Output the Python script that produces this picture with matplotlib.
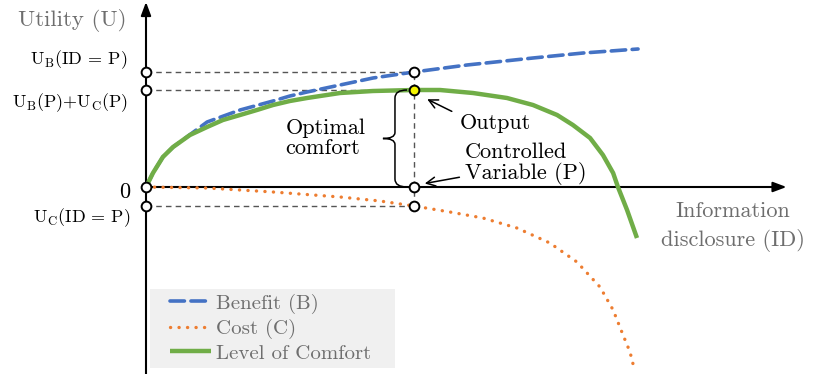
import numpy as np
import matplotlib
matplotlib.use('Agg')
import matplotlib.pyplot as plt
from matplotlib.path import Path
from matplotlib.patches import PathPatch, Rectangle

plt.rcParams['font.family'] = 'serif'
plt.rcParams['font.serif'] = ['cmr10']
plt.rcParams['mathtext.fontset'] = 'cm'
plt.rcParams['axes.unicode_minus'] = False

# Curves (x: information disclosure, P = 1; y: utility)
benefit_x = [0, 0.026, 0.063, 0.101, 0.127, 0.228, 0.351, 0.474, 0.537, 0.601, 0.724,
             0.847, 1.0, 1.198, 1.444, 1.631, 1.836]
benefit_y = [0, 0.14, 0.30, 0.40, 0.45, 0.65, 0.77, 0.86, 0.91, 0.95, 1.02,
             1.09, 1.15, 1.22, 1.29, 1.34, 1.38]

cost_x = [0, 0.228, 0.474, 0.724, 0.873, 1.0, 1.134, 1.257, 1.384, 1.507, 1.608,
          1.694, 1.743, 1.780, 1.806, 1.821]
cost_y = [0, -0.01, -0.05, -0.10, -0.14, -0.19, -0.25, -0.31, -0.41, -0.56, -0.75,
          -1.00, -1.23, -1.48, -1.65, -1.81]

comfort_x = [0, 0.026, 0.063, 0.101, 0.164, 0.228, 0.287, 0.351, 0.414, 0.474, 0.537,
             0.601, 0.724, 0.847, 1.0, 1.097, 1.220, 1.347, 1.444, 1.534, 1.593,
             1.657, 1.705, 1.743, 1.761, 1.795, 1.832]
comfort_y = [0, 0.14, 0.30, 0.40, 0.52, 0.60, 0.67, 0.72, 0.77, 0.82, 0.86,
             0.89, 0.94, 0.96, 0.97, 0.97, 0.94, 0.89, 0.82, 0.72, 0.62,
             0.49, 0.32, 0.14, 0.0, -0.23, -0.51]

P = 1.0
UB_P = 1.15
UBUC_P = 0.97
UC_P = -0.19

blue = '#4472C4'
orange = '#ED7D31'
green = '#70AD47'
grey = '#6e6e6e'

fig = plt.figure(figsize=(8.3, 3.74), dpi=100)
ax = fig.add_axes([0, 0, 1, 1])
ax.set_xlim(-146 / 268, (830 - 146) / 268)
ax.set_ylim((187 - 374) / 100, 187 / 100)
ax.axis('off')

# guide lines
for lvl in [UB_P, UBUC_P, UC_P]:
    ax.plot([0, P], [lvl, lvl], color='#555555', lw=1.0, ls=(0, (4, 3)), zorder=1)
ax.plot([P, P], [UC_P, UB_P], color='#555555', lw=1.0, ls=(0, (4, 3)), zorder=1)

# axes with arrows
ax.annotate('', xy=(0, 1.85), xytext=(0, -1.87),
            arrowprops=dict(arrowstyle='-|>,head_length=0.8,head_width=0.3',
                            color='black', lw=1.5, shrinkA=0, shrinkB=0), zorder=2)
ax.annotate('', xy=(2.39, 0), xytext=(0, 0),
            arrowprops=dict(arrowstyle='-|>,head_length=0.8,head_width=0.3',
                            color='black', lw=1.5, shrinkA=0, shrinkB=0), zorder=2)

ax.plot(benefit_x, benefit_y, color=blue, lw=2.6, ls=(0, (4, 1.8)),
        dash_capstyle='round', label='Benefit (B)', zorder=3)
ax.plot(cost_x, cost_y, color=orange, lw=2.4, ls=(0, (0.05, 2.5)),
        dash_capstyle='round', label='Cost (C)', zorder=3)
ax.plot(comfort_x, comfort_y, color=green, lw=3.2, label='Level of Comfort',
        solid_capstyle='butt', solid_joinstyle='round', zorder=4)

# points
pts_x = [0, 0, 0, 0, P, P, P]
pts_y = [UB_P, UBUC_P, 0, UC_P, UB_P, 0, UC_P]
ax.plot(pts_x, pts_y, 'o', ms=7, mfc='white', mec='black', mew=1.4, zorder=6)
ax.plot([P], [UBUC_P], 'o', ms=7, mfc='#f5f500', mec='black', mew=1.4, zorder=6)

# brace for optimal comfort
xe, xm, xt = 0.974, 0.929, 0.884
ym = (UBUC_P + 0) / 2
verts = [(xe, UBUC_P), (xm, UBUC_P), (xm, UBUC_P - 0.08),
         (xm, ym + 0.06), (xm, ym), (xt, ym),
         (xm, ym), (xm, ym - 0.06), (xm, 0.08),
         (xm, 0), (xe, 0)]
codes = [Path.MOVETO, Path.CURVE3, Path.CURVE3,
         Path.LINETO, Path.CURVE3, Path.CURVE3,
         Path.CURVE3, Path.CURVE3, Path.LINETO,
         Path.CURVE3, Path.CURVE3]
ax.add_patch(PathPatch(Path(verts, codes), fill=False, lw=1.1, color='black', zorder=5))

fs = 16
ax.text(0.52, 0.49, 'Optimal\ncomfort', fontsize=fs, ha='left', va='center',
        linespacing=1.0)
ax.annotate('Output', xy=(1.04, 0.89), xytext=(1.17, 0.64), fontsize=fs,
            ha='left', va='center',
            arrowprops=dict(arrowstyle='->', color='black', lw=1.1,
                            shrinkA=4, shrinkB=2, relpos=(0, 0.9)))
ax.annotate('Controlled\nVariable (P)', xy=(1.03, 0.03), xytext=(1.19, 0.235),
            fontsize=fs, ha='left', va='center', linespacing=1.0,
            arrowprops=dict(arrowstyle='->', color='black', lw=1.1,
                            shrinkA=2, shrinkB=2, relpos=(0, 0.2)))

ax.text(-0.071, 1.67, 'Utility (U)', fontsize=16.5, color=grey, ha='right', va='center')
ax.text(-0.07, 1.27, r'U$_\mathrm{B}$(ID = P)', fontsize=13, ha='right', va='center')
ax.text(-0.066, 0.84, r'U$_\mathrm{B}$(P)+U$_\mathrm{C}$(P)', fontsize=13,
        ha='right', va='center')
ax.text(-0.06, -0.05, '0', fontsize=16, ha='right', va='center')
ax.text(-0.056, -0.31, r'U$_\mathrm{C}$(ID = P)', fontsize=13, ha='right', va='center')
ax.text(2.19, -0.395, 'Information\ndisclosure (ID)', fontsize=16, color=grey,
        ha='center', va='center', linespacing=1.5)

# legend on a flat grey panel
ax.add_patch(Rectangle((150 / 830, 6 / 374), 245 / 830, 79 / 374,
                       transform=ax.transAxes, facecolor='#f0f0f0',
                       edgecolor='none', zorder=7))
leg = ax.legend(loc='lower left', bbox_to_anchor=(165 / 830, 6 / 374),
                frameon=False, fontsize=15, handlelength=1.95, handletextpad=0.25,
                labelspacing=0.25, borderpad=0.25, borderaxespad=0)
for t in leg.get_texts():
    t.set_color(grey)
leg.set_zorder(8)

fig.savefig('out.png', dpi=100)
